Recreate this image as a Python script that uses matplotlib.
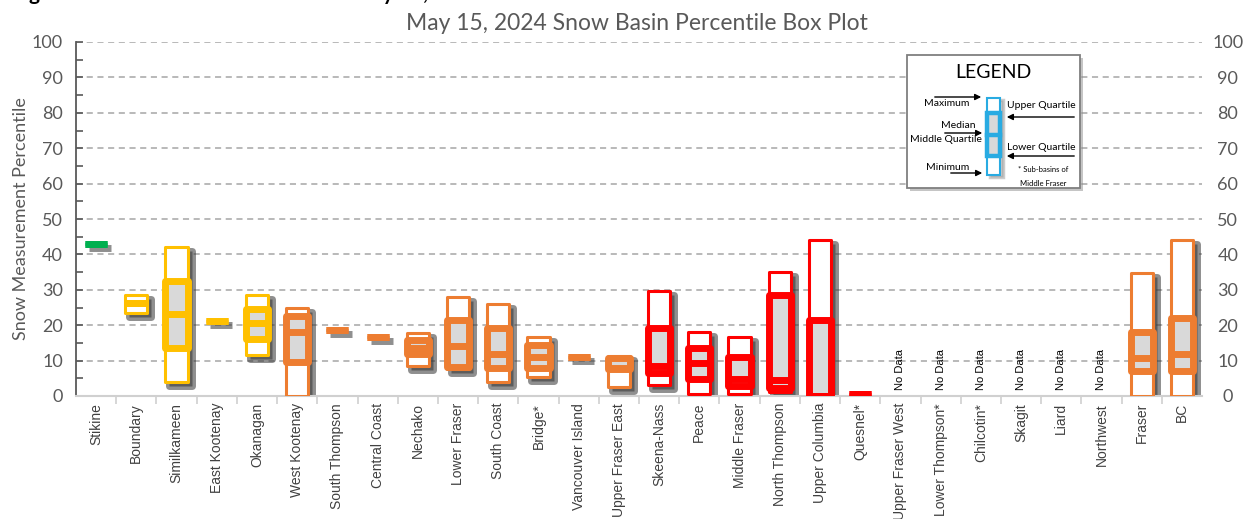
import numpy as np
import matplotlib
matplotlib.use("Agg")
import matplotlib.pyplot as plt
from matplotlib.patches import Rectangle
from matplotlib.transforms import offset_copy

# basin data (percentiles); nan = no data
basins = ["Stikine", "Boundary", "Similkameen", "East Kootenay", "Okanagan",
          "West Kootenay", "South Thompson", "Central Coast", "Nechako",
          "Lower Fraser", "South Coast", "Bridge*", "Vancouver Island",
          "Upper Fraser East", "Skeena-Nass", "Peace", "Middle Fraser",
          "North Thompson", "Upper Columbia", "Quesnel*", "Upper Fraser West",
          "Lower Thompson*", "Chilcotin*", "Skagit", "Liard", "Northwest",
          "Fraser", "BC"]
nan = np.nan
mins = [43, 23.5, 4, 21.3, 11.5, 0, 18.6, 16.6, 8.5, 7.5, 4, 5.3, 10.9, 2.6,
        3, 0.5, 0.5, 1, 0, 0.6, nan, nan, nan, nan, nan, nan, 0, 0]
q1s = [43, 26.3, 13.5, 21.3, 16, 9.5, 18.6, 16.6, 12, 8.3, 7.8, 7.8, 10.9, 7.6,
       6.5, 4.7, 2.7, 2.2, 0, 0.6, nan, nan, nan, nan, nan, nan, 7, 7]
medians = [43, 26.3, 23.2, 21.3, 20.5, 18, 18.6, 16.6, 13.7, 14, 11.9, 11, 10.9, 8,
           8.5, 9.3, 4.8, 4.6, 0, 0.6, nan, nan, nan, nan, nan, nan, 10.6, 12]
q3s = [43, 26.3, 32.5, 21.3, 24.5, 22.5, 18.6, 16.6, 15.8, 21.5, 19.3, 14.5, 10.9, 10.8,
       19.2, 13.7, 11, 28.5, 21.5, 0.6, nan, nan, nan, nan, nan, nan, 18, 22]
maxs = [43, 28.5, 42, 21.3, 28.5, 25, 18.6, 16.6, 17.8, 28, 26, 16.8, 10.9, 11.3,
        29.7, 18.2, 16.8, 35, 44, 0.6, nan, nan, nan, nan, nan, nan, 34.8, 44]
groups = ["green"] + ["gold"] * 4 + ["orange"] * 9 + ["red"] * 6 + ["none"] * 6 + ["orange"] * 2
group_colors = {"green": "#00B050", "gold": "#FFC000", "orange": "#ED7D31",
                "red": "#FF0000", "none": "#808080"}

W, H = 1249, 519
fig = plt.figure(figsize=(W / 100, H / 100), dpi=100)
ax = fig.add_axes([76 / W, 1 - 396 / H, 1126 / W, 354 / H])

box_w = 0.55
outer_lw = 2.2
inner_lw = 5.0
shadow_tr = offset_copy(ax.transData, fig=fig, x=4, y=-4, units='dots')


def draw_box(x, lo, q1, med, q3, hi, color):
    left = x - box_w / 2
    ax.add_patch(Rectangle((left, lo), box_w, hi - lo, transform=shadow_tr,
                           fc='#333333', ec='#333333', lw=inner_lw, alpha=0.55,
                           zorder=2, joinstyle='round'))
    ax.add_patch(Rectangle((left, lo), box_w, hi - lo, fc='white', ec=color,
                           lw=outer_lw, zorder=3, joinstyle='round'))
    ax.add_patch(Rectangle((left, q1), box_w, q3 - q1, fc='#d9d9d9', ec=color,
                           lw=inner_lw, zorder=4, joinstyle='round'))
    ax.plot([left, left + box_w], [med, med], color=color, lw=inner_lw,
            solid_capstyle='butt', zorder=5)


for i, name in enumerate(basins):
    if np.isnan(mins[i]):
        ax.text(i, 1.6, "No Data", rotation=90, ha='center', va='bottom',
                fontsize=8, family='Liberation Sans', color='black', zorder=6)
        continue
    draw_box(i, mins[i], q1s[i], medians[i], q3s[i], maxs[i], group_colors[groups[i]])

ax.set_xlim(-0.5, len(basins) - 0.5)
ax.set_ylim(0, 100)

# y axis
ax.set_yticks(range(0, 101, 10))
ax.set_yticks(range(5, 100, 10), minor=True)
ax.yaxis.grid(True, which='major', ls=(0, (4, 3)), color='#a6a6a6', lw=1.1, zorder=0)
ax.set_axisbelow(True)
ax.tick_params(axis='y', which='both', direction='in', length=5, color='#595959',
               width=1.2, labelsize=13, labelcolor='#595959', pad=9.5)
for lab in ax.get_yticklabels():
    lab.set_family('Lato')
ax.set_ylabel("Snow Measurement Percentile", fontsize=13, color='#595959',
              family='Lato', labelpad=2)

ax2 = ax.twinx()
ax2.set_ylim(0, 100)
ax2.set_yticks(range(0, 101, 10))
ax2.tick_params(axis='y', length=0, labelsize=13, labelcolor='#595959', pad=18.5)
for lab in ax2.get_yticklabels():
    lab.set_family('Lato')
    lab.set_ha('center')
for s in ax2.spines.values():
    s.set_visible(False)

# x axis
ax.set_xticks(range(len(basins)))
ax.set_xticklabels(basins, rotation=90, fontsize=10, family='Liberation Sans',
                   color='#404040')
ax.set_xticks(np.arange(0.5, len(basins) - 0.5, 1), minor=True)
ax.tick_params(axis='x', which='major', length=0, pad=5)
ax.tick_params(axis='x', which='minor', length=6, color='#d0d0d0', width=1.2)

for side in ['top', 'right']:
    ax.spines[side].set_visible(False)
ax.spines['left'].set_color('#595959')
ax.spines['left'].set_linewidth(1.3)
ax.spines['bottom'].set_color('#d0d0d0')
ax.spines['bottom'].set_linewidth(1.5)

fig.text(0.51, 1 - 30 / H, "May 15, 2024 Snow Basin Percentile Box Plot",
         ha='center', va='baseline', fontsize=16.5, color='#595959', family='Lato')
# header line of the page, mostly cropped off
fig.text(12 / W, 1.0, "Figure 2: Basin Snow Percentiles for May 15, 2024",
         ha='left', va='baseline', fontsize=15, fontweight='bold', color='black',
         family='Lato')

# legend panel drawn in pixel coordinates
lg = fig.add_axes([907 / W, 1 - 189 / H, 174 / W, 134 / H])
lg.set_xlim(907, 1081)
lg.set_ylim(189, 55)
lg.axis('off')
lg.add_patch(Rectangle((910, 58), 173, 133, fc='#8c8c8c', ec='none', alpha=0.5,
                       clip_on=False, zorder=1))
lg.add_patch(Rectangle((907, 55), 173, 133, fc='white', ec='#7f7f7f', lw=1.3,
                       clip_on=False, zorder=2))
lg.text(993, 73, "LEGEND", ha='center', va='center', fontsize=14, family='Lato', zorder=3)

blue = '#29ABE2'
lg.add_patch(Rectangle((990, 100), 13, 77, fc='#9a9a9a', ec='#9a9a9a', lw=2.5,
                       alpha=0.5, zorder=3))
lg.add_patch(Rectangle((987, 98), 13, 77, fc='white', ec=blue, lw=1.5, zorder=4))
lg.add_patch(Rectangle((987, 113), 13, 43, fc='#d9d9d9', ec=blue, lw=3.2, zorder=5))
lg.plot([987, 1000], [135, 135], color=blue, lw=3.2, zorder=6)

small = dict(fontsize=7.5, family='Lato', va='center', zorder=7)
lg.text(969, 104, "Maximum", ha='right', **small)
lg.text(1007, 106, "Upper Quartile", ha='left', **small)
lg.text(958, 125, "Median", ha='center', **small)
lg.text(946, 140, "Middle Quartile", ha='center', **small)
lg.text(1007, 147, "Lower Quartile", ha='left', **small)
lg.text(926, 167, "Minimum", ha='left', **small)
lg.text(1043, 170, "* Sub-basins of", ha='center', va='center', fontsize=5.5,
        family='Lato', zorder=7)
lg.text(1043, 183, "Middle Fraser", ha='center', va='center', fontsize=5.5,
        family='Lato', zorder=7)

arrow = dict(arrowstyle='-|>', color='black', lw=1, mutation_scale=9)
for x0, x1, y in [(932, 984, 97), (1077, 1004, 117), (942, 985, 133),
                  (1077, 1004, 156), (948, 985, 173)]:
    lg.annotate("", xy=(x1, y), xytext=(x0, y), arrowprops=arrow, zorder=8)

fig.savefig("out.png", dpi=100)
